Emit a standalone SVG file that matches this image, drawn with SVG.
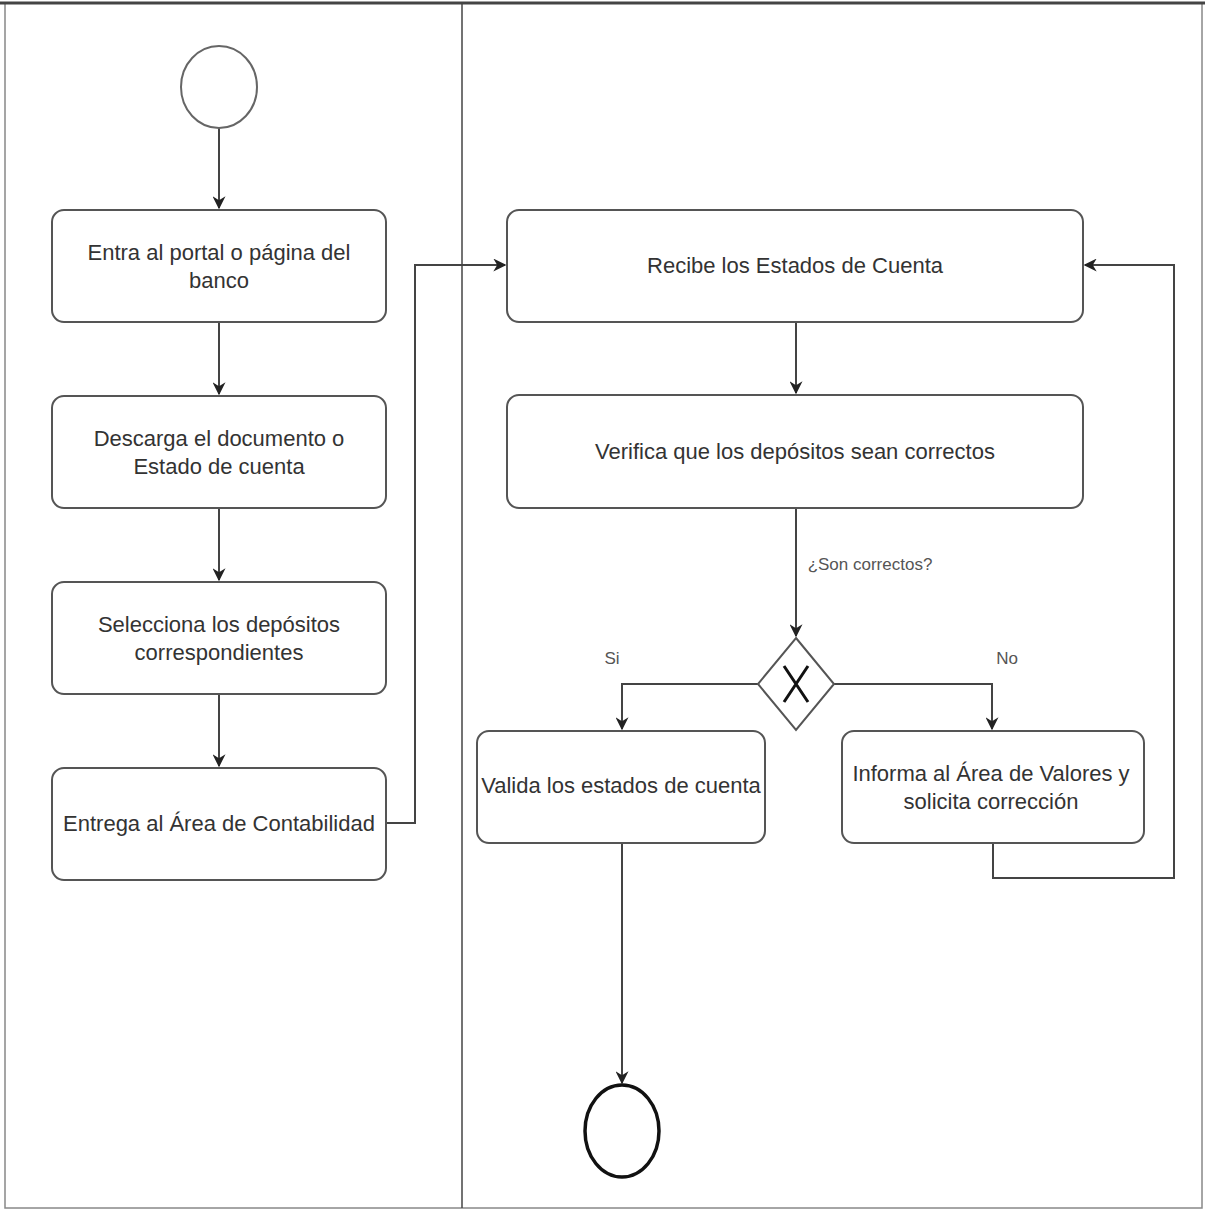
<svg xmlns="http://www.w3.org/2000/svg" width="1205" height="1212" viewBox="0 0 1205 1212">
<defs>
<style>
.box{fill:#fff;stroke:#555;stroke-width:2}
.t{font-family:"Liberation Sans",Arial,sans-serif;font-size:22px;fill:#333;text-anchor:middle}
.lbl{font-family:"Liberation Sans",Arial,sans-serif;font-size:17px;fill:#555;text-anchor:middle}
.c{fill:none;stroke:#444;stroke-width:2}
</style>
<marker id="ah" viewBox="0 0 10 10" refX="9" refY="5" markerWidth="13" markerHeight="13" markerUnits="userSpaceOnUse" orient="auto">
<path d="M0,0 L10,5 L0,10 L3,5 Z" fill="#222"/>
</marker>
</defs>
<rect width="1205" height="1212" fill="#fff"/>
<g id="lanes">
<rect x="5" y="3" width="1197" height="1205" fill="none" stroke="#888" stroke-width="1.5"/>
<line x1="0" y1="3" x2="1205" y2="3" stroke="#444" stroke-width="3"/>
<line x1="462" y1="3" x2="462" y2="1208" stroke="#444" stroke-width="1.5"/>
</g>
<g id="connectors">
<line class="c" x1="219" y1="128" x2="219" y2="208" marker-end="url(#ah)"/>
<line class="c" x1="219" y1="322" x2="219" y2="394" marker-end="url(#ah)"/>
<line class="c" x1="219" y1="508" x2="219" y2="580" marker-end="url(#ah)"/>
<line class="c" x1="219" y1="694" x2="219" y2="766" marker-end="url(#ah)"/>
<polyline class="c" points="386,823 415,823 415,265 505,265" marker-end="url(#ah)"/>
<line class="c" x1="796" y1="322" x2="796" y2="393" marker-end="url(#ah)"/>
<line class="c" x1="796" y1="508" x2="796" y2="636" marker-end="url(#ah)"/>
<polyline class="c" points="758,684 622,684 622,729" marker-end="url(#ah)"/>
<polyline class="c" points="834,684 992,684 992,729" marker-end="url(#ah)"/>
<polyline class="c" points="993,843 993,878 1174,878 1174,265 1085,265" marker-end="url(#ah)"/>
<line class="c" x1="622" y1="843" x2="622" y2="1083" marker-end="url(#ah)"/>
<text class="lbl" x="870" y="570">¿Son correctos?</text>
<text class="lbl" x="612" y="664">Si</text>
<text class="lbl" x="1007" y="664">No</text>
</g>
<g id="start"><ellipse cx="219" cy="87" rx="38" ry="41" fill="#fff" stroke="#666" stroke-width="2"/></g>
<g id="n1"><rect class="box" x="52" y="210" width="334" height="112" rx="12"/><text class="t" x="219" y="260">Entra al portal o página del</text><text class="t" x="219" y="288">banco</text></g>
<g id="n2"><rect class="box" x="52" y="396" width="334" height="112" rx="12"/><text class="t" x="219" y="446">Descarga el documento o</text><text class="t" x="219" y="474">Estado de cuenta</text></g>
<g id="n3"><rect class="box" x="52" y="582" width="334" height="112" rx="12"/><text class="t" x="219" y="632">Selecciona los depósitos</text><text class="t" x="219" y="660">correspondientes</text></g>
<g id="n4"><rect class="box" x="52" y="768" width="334" height="112" rx="12"/><text class="t" x="219" y="831">Entrega al Área de Contabilidad</text></g>
<g id="n5"><rect class="box" x="507" y="210" width="576" height="112" rx="12"/><text class="t" x="795" y="273">Recibe los Estados de Cuenta</text></g>
<g id="n6"><rect class="box" x="507" y="395" width="576" height="113" rx="12"/><text class="t" x="795" y="459">Verifica que los depósitos sean correctos</text></g>
<g id="gateway"><polygon points="796,638 834,684 796,730 758,684" fill="#fff" stroke="#555" stroke-width="2"/><path d="M784,666 L808,702 M808,666 L784,702" stroke="#111" stroke-width="3" fill="none"/></g>
<g id="n7"><rect class="box" x="477" y="731" width="288" height="112" rx="12"/><text class="t" x="621" y="793">Valida los estados de cuenta</text></g>
<g id="n8"><rect class="box" x="842" y="731" width="302" height="112" rx="12"/><text class="t" x="991" y="781">Informa al Área de Valores y</text><text class="t" x="991" y="809">solicita corrección</text></g>
<g id="end"><ellipse cx="622" cy="1131" rx="37" ry="46" fill="#fff" stroke="#111" stroke-width="3.5"/></g>
</svg>
